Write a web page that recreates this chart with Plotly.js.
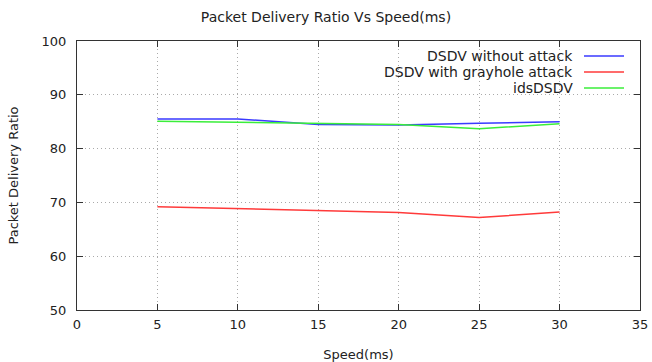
<!DOCTYPE html>
<html>
<head>
<meta charset="utf-8">
<script src="https://cdn.plot.ly/plotly-3.0.1.min.js"></script>
<style>html,body{margin:0;padding:0;background:#fff;}#chart{width:652px;height:362px;}</style>
</head>
<body>
<div id="chart"></div>
<script>
const speeds = [5, 10, 15, 20, 25, 30];
const seriesNames = ["DSDV without attack", "DSDV with grayhole attack", "idsDSDV"];
const dsdvWithoutAttack = [85.5, 85.5, 84.5, 84.4, 84.7, 85.0];
const dsdvGrayhole = [69.2, 68.8, 68.5, 68.1, 67.2, 68.2];
const idsDSDV = [85.1, 84.9, 84.7, 84.5, 83.7, 84.6];
const xTicks = [0, 5, 10, 15, 20, 25, 30, 35];
const yTicks = [50, 60, 70, 80, 90, 100];

const colors = ["#3a3aff", "#ff3a3a", "#3aee3a"];
const values = [dsdvWithoutAttack, dsdvGrayhole, idsDSDV];
const FONT = "DejaVu Sans, sans-serif";

const traces = values.map((v, i) => ({
  x: speeds, y: v, type: "scatter", mode: "lines",
  name: seriesNames[i], line: {color: colors[i], width: 1.5},
  showlegend: false
}));

// custom gnuplot-style key: text right-aligned, sample line to the right
const rowsY = [0.944, 0.885, 0.825];
const annotations = seriesNames.map((n, i) => ({
  xref: "paper", yref: "paper", x: 0.8845, y: rowsY[i],
  xanchor: "right", yanchor: "middle", text: n, showarrow: false,
  font: {family: FONT, size: 14, color: "#222"}
}));
const shapes = [{
  type: "rect", xref: "paper", yref: "paper", x0: 0.515, x1: 0.997, y0: 0.79, y1: 0.992,
  fillcolor: "#ffffff", line: {width: 0}, layer: "between"
}].concat(seriesNames.map((n, i) => ({
  type: "line", xref: "paper", yref: "paper", x0: 0.9005, x1: 0.9716, y0: rowsY[i], y1: rowsY[i],
  line: {color: colors[i], width: 1.5}
})));

const axisCommon = {
  showline: true, linecolor: "#333", linewidth: 1, mirror: "ticks",
  ticks: "inside", ticklen: 6, tickcolor: "#333", tickwidth: 1,
  showgrid: true, gridcolor: "#aaaaaa", griddash: "1px,3px", gridwidth: 1,
  zeroline: false, tickfont: {family: FONT, size: 13, color: "#222"}
};

const layout = {
  width: 652, height: 362,
  margin: {l: 77, r: 12, t: 41, b: 52},
  paper_bgcolor: "#fff", plot_bgcolor: "#fff",
  title: {text: "Packet Delivery Ratio Vs Speed(ms)", x: 0.5, xanchor: "center", y: 0.952, yanchor: "middle",
          font: {family: FONT, size: 14, color: "#222"}},
  xaxis: Object.assign({}, axisCommon, {range: [0, 35], tickvals: xTicks, ticktext: xTicks.map(String),
          ticklabelstandoff: 2,
          title: {text: "Speed(ms)", font: {family: FONT, size: 13, color: "#222"}, standoff: 19}}),
  yaxis: Object.assign({}, axisCommon, {range: [50, 100], tickvals: yTicks, ticktext: yTicks.map(String),
          ticklabelstandoff: 7,
          title: {text: "Packet Delivery Ratio", font: {family: FONT, size: 13, color: "#222"}, standoff: 20}}),
  annotations: annotations, shapes: shapes, showlegend: false
};

Plotly.newPlot("chart", traces, layout, {displayModeBar: false, staticPlot: true});
</script>
</body>
</html>
